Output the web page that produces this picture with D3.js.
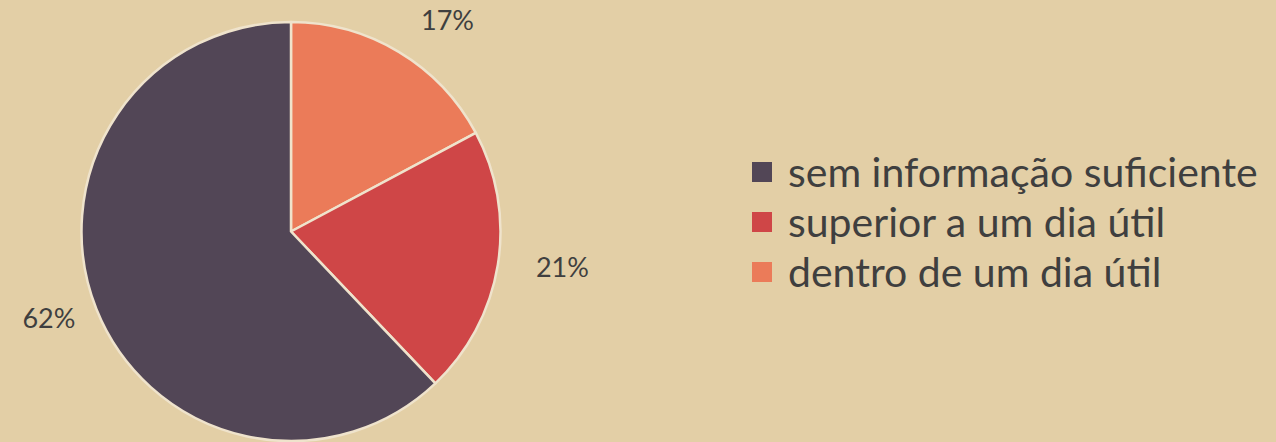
<!DOCTYPE html>
<html><head><meta charset="utf-8">
<script src="https://cdn.jsdelivr.net/npm/d3@7"></script>
<style>
html,body{margin:0;padding:0;background:#e3cfa6;}
svg{display:block;}
text{font-family:"Source Sans Pro",Lato,"Open Sans",sans-serif;fill:#3f3f3f;}
</style></head>
<body>
<svg id="chart" width="1276" height="442"></svg>
<script>
const categories = ["dentro de um dia útil", "superior a um dia útil", "sem informação suficiente"];
const values = [17.2, 20.7, 62.1];
const labels = ["17%", "21%", "62%"];
const legendOrder = ["sem informação suficiente", "superior a um dia útil", "dentro de um dia útil"];
const colors = ["#eb7b59", "#cf4647", "#524656"];

const svg = d3.select("#chart");
const cx = 291, cy = 231.5, R = 209.5, labelR = 243;

const color = d3.scaleOrdinal().domain(categories).range(colors);
const data = categories.map((c, i) => ({cat: c, value: values[i], label: labels[i]}));

const pie = d3.pie().value(d => d.value).sort(null);
const arcs = pie(data);
const arc = d3.arc().innerRadius(0).outerRadius(R);
const labelArc = d3.arc().innerRadius(labelR).outerRadius(labelR);

const g = svg.append("g").attr("transform", `translate(${cx},${cy})`);
g.selectAll("path").data(arcs).join("path")
  .attr("d", arc)
  .attr("fill", d => color(d.data.cat))
  .attr("stroke", "#efe3cc")
  .attr("stroke-width", 2.5)
  .attr("stroke-linejoin", "round");

const midAngle = d => (d.startAngle + d.endAngle) / 2;
g.selectAll("text.lbl").data(arcs).join("text")
  .attr("class", "lbl")
  .attr("transform", d => { const [x, y] = labelArc.centroid(d); return `translate(${x + (Math.sin(midAngle(d)) > 0 ? 5 : 10)},${y - 4})`; })
  .attr("text-anchor", d => Math.sin(midAngle(d)) > 0 ? "start" : "end")
  .attr("dominant-baseline", "central")
  .style("font-size", "27px")
  .text(d => d.data.label);

const legend = svg.append("g").attr("transform", "translate(752,172)");
const y = d3.scalePoint().domain(legendOrder).range([0, 100]);
const items = legend.selectAll("g").data(legendOrder).join("g")
  .attr("transform", d => `translate(0,${y(d)})`);
items.append("rect").attr("x", 0).attr("y", -10).attr("width", 20).attr("height", 20)
  .attr("fill", d => color(d));
items.append("text").attr("x", 36).attr("y", -1)
  .attr("dominant-baseline", "central")
  .style("font-size", "41px")
  .text(d => d);
</script>
</body></html>
